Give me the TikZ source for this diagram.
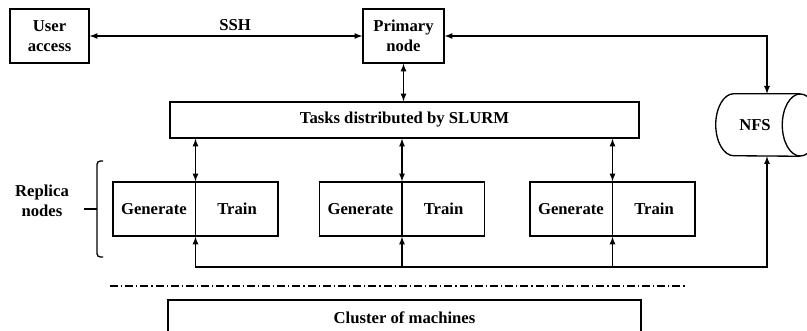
\documentclass[tikz,border=0pt]{standalone}
\usepackage{fontspec}
\setmainfont{Liberation Serif}
\usetikzlibrary{arrows,calc}

\newcommand\diagfont{\fontsize{12.5}{15}\selectfont\bfseries}
\tikzset{
  box/.style={draw, line width=1pt, inner sep=0pt, font=\diagfont, align=center},
  word/.style={inner sep=0pt, font=\diagfont, align=center},
  link/.style={line width=1pt, >=latex},
}

\begin{document}
\begin{tikzpicture}[x=0.75pt, y=-0.75pt]
  \useasboundingbox (0,0) rectangle (807,331);
  \clip (0,0) rectangle (807,331);

  % head node, storage and scheduler
  \node[box, minimum width=59.25pt, minimum height=40.5pt] (user) at (49.5,36) {User\\access};
  \node[box, minimum width=60.75pt, minimum height=40.5pt] (primary) at (403.5,36) {Primary\\node};
  \node[word, minimum width=76.5pt, minimum height=46.5pt] (nfs) at (767,125) {};
  \draw[link] ($(nfs.north east)+(-18,0)$) -- ($(nfs.north west)+(18,0)$)
    arc[start angle=90, end angle=270, x radius=13.5pt, y radius=23.25pt]
    -- ($(nfs.south east)+(-18,0)$);
  \draw[link] ($(nfs.east)+(-18,0)$) ellipse[x radius=13.5pt, y radius=23.25pt];
  \node[word] (nfstext) at ($(nfs.center)+(-12,0)$) {NFS};
  \node[box, minimum width=351.75pt, minimum height=27pt] (tasks) at (404.5,120) {Tasks distributed by SLURM};

  % replicas
  \foreach \i/\x in {1/195.5, 2/402, 3/612.5} {
    \node[box, minimum width=123.75pt, minimum height=40.5pt] (rep\i) at (\x,209) {};
    \node[word] (gen\i) at ($(rep\i.west)!0.5!(rep\i.center)$) {Generate};
    \node[word] (train\i) at ($(rep\i.east)!0.5!(rep\i.center)$) {Train};
    \draw[link,<->] (tasks.south -| rep\i.north) -- (rep\i.north);
    \draw[link] (rep\i.north) -- (rep\i.south);
  }
  \node[word] (replica) at (42,201) {Replica\\nodes};
  \draw[link, rounded corners=2.5pt] (103,161) -- (97,161) -- (97,257) -- (103,257);
  \draw[link] (97,209) -- (84,209);

  \node[box, minimum width=354.75pt, minimum height=27pt] (cluster) at (404.5,318) {Cluster of machines};

  % connections
  \draw[link,<->] (user.east) -- node[word, above=3.4pt, pos=0.533] {SSH} (primary.west);
  \draw[link,<->] (primary.east) -| (nfs.north);
  \draw[link,<->] (primary.south) -- (primary.south |- tasks.north);
  \coordinate (bus) at (0,267);
  \draw[link,<->] (rep1.south) |- (bus -| nfs.south) -- (nfs.south);
  \draw[link,<-] (rep2.south) -- (rep2.south |- bus);
  \draw[link,<-] (rep3.south) -- (rep3.south |- bus);

  \draw[line width=1pt, dash pattern=on 6pt off 2.2pt on 1pt off 2.2pt] (110,286) -- (687,286);
\end{tikzpicture}
\end{document}
